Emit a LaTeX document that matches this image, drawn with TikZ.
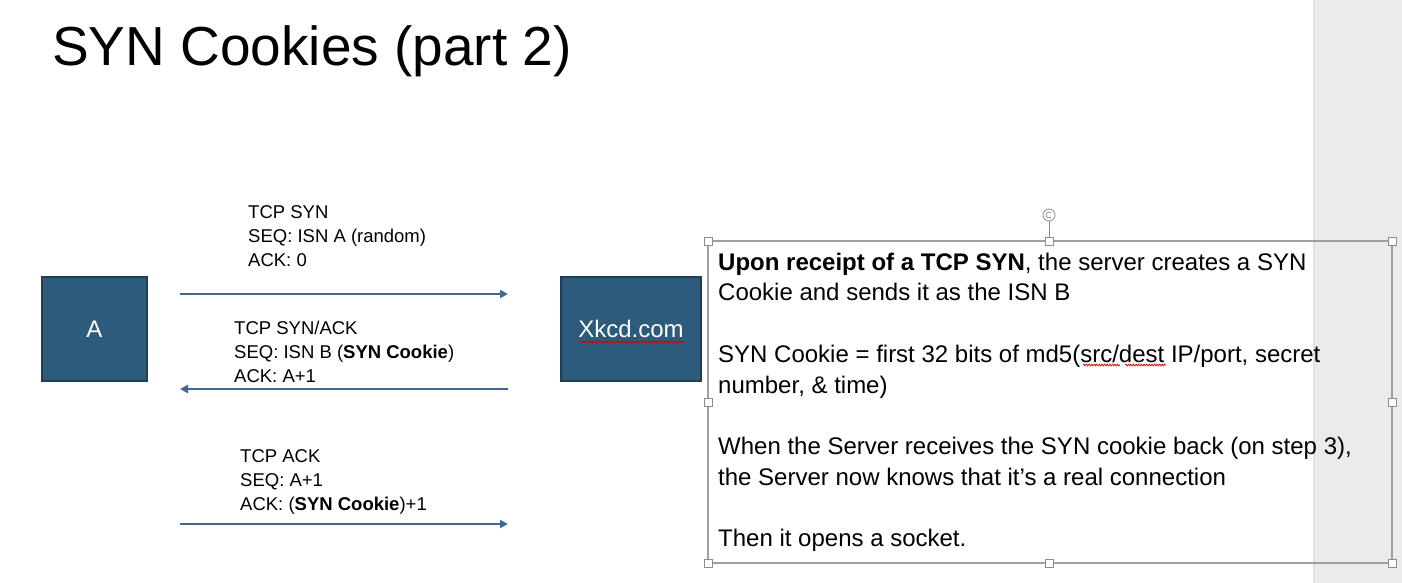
\documentclass[tikz,border=0pt]{standalone}
\usepackage{fontspec}
\setmainfont{Liberation Sans}
\usetikzlibrary{arrows.meta,decorations.pathmorphing}
\definecolor{boxfill}{HTML}{2D5B7C}
\definecolor{boxline}{HTML}{1E3E56}
\definecolor{arrowcol}{HTML}{41698E}
\definecolor{bandgray}{HTML}{EBEBEB}
\definecolor{handlegray}{HTML}{8C8C8C}
\definecolor{framegray}{HTML}{A0A0A0}
\tikzset{
  hostbox/.style={draw=boxline,fill=boxfill,line width=1.5bp,text=white,font=\fontsize{24bp}{28bp}\selectfont},
  msg/.style={draw=arrowcol,line width=2.2bp,-{Triangle[length=8bp,width=8bp]}},
  lbl/.style={anchor=base west,inner sep=0pt,align=left,font=\fontsize{18.5bp}{24bp}\selectfont},
  handle/.style={draw=handlegray,fill=white,line width=0.8bp,minimum size=8bp,inner sep=0pt},
  spell/.style={draw=red!85!black,line width=0.7bp,decorate,decoration={snake,amplitude=0.9bp,segment length=2.6bp}}
}
\begin{document}
\begin{tikzpicture}[x=1bp,y=-1bp]
\useasboundingbox (0,0) rectangle (1402,583);
\fill[white] (0,0) rectangle (1402,583);
% side band
\fill[bandgray] (1313,0) rectangle (1402,583);
\fill[black!12] (1313,0) rectangle (1315,583);
% title
\node[anchor=base west,inner sep=0pt,font=\fontsize{55bp}{60bp}\selectfont] (title) at (52,66) {SYN Cookies (part 2)};
% hosts
\node[hostbox,minimum width=105bp,minimum height=104bp] (A) at (94.5,329) {A};
\node[hostbox,minimum width=140bp,minimum height=104bp] (X) at (631,329) {Xkcd.com};
\draw[spell] (580,342) -- (684,342);
% arrows
\coordinate (s1) at (180,294); \coordinate (e1) at (508,294);
\coordinate (s2) at (508,389); \coordinate (e2) at (180,389);
\coordinate (s3) at (180,524); \coordinate (e3) at (508,524);
\draw[msg] (s1) -- (e1);
\draw[msg] (s2) -- (e2);
\draw[msg] (s3) -- (e3);
% labels (anchored at the baseline of their last line)
\node[lbl] (m1) at (248,266.5) {TCP SYN\\SEQ: ISN A (random)\\ACK: 0};
\node[lbl] (m2) at (234,382.5) {TCP SYN/ACK\\SEQ: ISN B (\textbf{SYN Cookie})\\ACK: A+1};
\node[lbl] (m3) at (240,510.5) {TCP ACK\\SEQ: A+1\\ACK: (\textbf{SYN Cookie})+1};
% text box frame
\draw[framegray,line width=1.6bp] (708,241) rectangle (1392,563);
\node[anchor=base west,inner sep=0pt,align=left,font=\fontsize{24bp}{30.7bp}\selectfont] (note) at (718,546.5)
 {\textbf{Upon receipt of a TCP SYN}, the server creates a SYN\\
  Cookie and sends it as the ISN B\\[30.7bp]
  SYN Cookie = first 32 bits of md5(src/dest IP/port, secret\\
  number, \& time)\\[30.7bp]
  When the Server receives the SYN cookie back (on step 3),\\
  the Server now knows that it’s a real connection\\[30.7bp]
  Then it opens a socket.};
\draw[spell] (1083,365) -- (1120,365);
\draw[spell] (1125,365) -- (1166,365);
% rotation handle
\coordinate (rtop) at (1049,221);
\coordinate (rbot) at (1049,241);
\draw[handlegray,line width=0.8bp] (rtop) -- (rbot);
\node[draw=handlegray,fill=white,circle,line width=0.8bp,minimum size=12bp,inner sep=0pt] (rot) at (1049,215) {};
\draw[handlegray,line width=0.7bp] ([shift={(40:3bp)}]rot.center) arc[start angle=40,end angle=320,radius=3bp];
% selection handles
\node[handle] (h1) at (708,241) {};
\node[handle] (h2) at (1049,241) {};
\node[handle] (h3) at (1392,241) {};
\node[handle] (h4) at (708,402) {};
\node[handle] (h5) at (1392,402) {};
\node[handle] (h6) at (708,563) {};
\node[handle] (h7) at (1049,563) {};
\node[handle] (h8) at (1392,563) {};
\end{tikzpicture}
\end{document}
